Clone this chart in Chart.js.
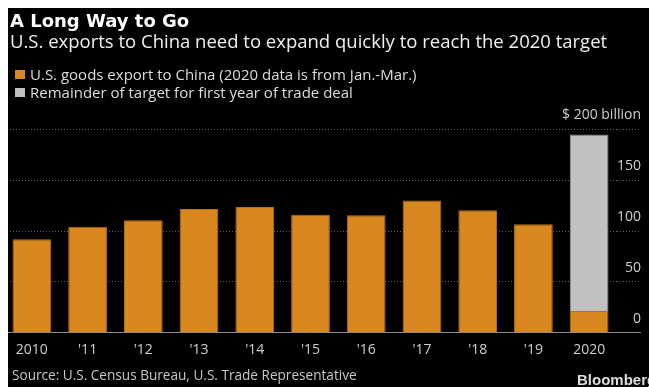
<!DOCTYPE html>
<html>
<head>
<meta charset="utf-8">
<title>A Long Way to Go</title>
<script src="https://cdn.jsdelivr.net/npm/chart.js@4.4.1/dist/chart.umd.min.js"></script>
<style>
  html, body { margin: 0; padding: 0; background: #fff; width: 649px; height: 387px; overflow: hidden; }
  #panel { position: absolute; left: 8px; top: 8px; width: 641px; height: 379px; background: #000; }
  #chart { position: absolute; left: 0; top: 0; clip-path: inset(8px 0 0 8px); }
  .txt { position: absolute; white-space: nowrap; font-family: "Open Sans", sans-serif; }
  #title { left: 10px; top: 12px; font: bold 18px/18px "DejaVu Sans", sans-serif; color: #fff; }
  #subtitle { left: 10px; top: 32px; font-size: 18.5px; line-height: 18px; color: #f0f0f0; }
  .legend { left: 30px; font-size: 15px; line-height: 18px; color: #ddd; }
  .swatch { position: absolute; left: 15px; width: 10px; height: 9px; }
  #source { left: 12px; top: 368px; font-size: 13.6px; line-height: 14px; color: #c8c8c8; }
  #brand { left: 577px; top: 372px; font: bold 15px/15px "Liberation Sans", Arial, sans-serif; color: #ddd; }
</style>
</head>
<body>
<div id="panel"></div>
<canvas id="chart" width="649" height="387"></canvas>

<div class="txt" id="title">A Long Way to Go</div>
<div class="txt" id="subtitle">U.S. exports to China need to expand quickly to reach the 2020 target</div>

<div class="swatch" id="swExports" style="top:70px"></div>
<div class="txt legend" id="lgExports" style="top:65px"></div>
<div class="swatch" id="swRemainder" style="top:88px"></div>
<div class="txt legend" id="lgRemainder" style="top:83px"></div>

<div class="txt" id="source">Source: U.S. Census Bureau, U.S. Trade Representative</div>
<div class="txt" id="brand">Bloomberg</div>

<script>
// years on the x axis
const years = ["2010", "'11", "'12", "'13", "'14", "'15", "'16", "'17", "'18", "'19", "2020"];

// U.S. goods exports to China, $ billion (2020 = Jan.-Mar. only)
const exportsToChina = [91.9, 104.1, 110.5, 121.7, 123.7, 115.9, 115.6, 129.9, 120.3, 106.6, 21.3];

// what is still missing to hit the first-year target (only 2020)
const remainingTarget = [null, null, null, null, null, null, null, null, null, null, 173.5];

// y axis ticks
const yTicks = [0, 50, 100, 150, 200];

const seriesNames = [
  "U.S. goods export to China (2020 data is from Jan.-Mar.)",
  "Remainder of target for first year of trade deal"
];

const ORANGE = "#d9881f";
const GREY = "#c0c0c0";

// html legend
document.getElementById("swExports").style.background = ORANGE;
document.getElementById("swRemainder").style.background = GREY;
document.getElementById("lgExports").textContent = seriesNames[0];
document.getElementById("lgRemainder").textContent = seriesNames[1];

const tickFont = { family: "Open Sans", size: 14 };
const dotted = ctx => (ctx.tick && ctx.tick.value !== 0) ? [1, 2] : [];

new Chart(document.getElementById("chart"), {
  type: "bar",
  data: {
    labels: years,
    datasets: [
      {
        label: seriesNames[0],
        data: exportsToChina,
        backgroundColor: ORANGE,
        borderColor: "#b86f14",
        borderWidth: { top: 1, left: 1, right: 1, bottom: 0 },
        borderSkipped: false
      },
      {
        label: seriesNames[1],
        data: remainingTarget,
        backgroundColor: GREY,
        borderColor: "#9c9c9c",
        borderWidth: { top: 1, left: 1, right: 1, bottom: 0 },
        borderSkipped: false
      }
    ]
  },
  options: {
    responsive: false,
    animation: false,
    devicePixelRatio: 1,
    layout: { padding: { left: 4, right: 8, top: 129.3, bottom: 0 } },
    datasets: {
      bar: { barPercentage: 0.695, categoryPercentage: 1 }
    },
    plugins: {
      legend: { display: false },
      title: { display: false },
      tooltip: { enabled: false }
    },
    scales: {
      x: {
        stacked: true,
        grid: { display: false, drawTicks: false },
        border: { display: false },
        ticks: {
          color: "#cfcfcf",
          font: tickFont,
          padding: 9,
          maxRotation: 0,
          autoSkip: false
        },
        afterFit: s => { s.height = 54.3; }
      },
      y: {
        position: "right",
        stacked: true,
        min: 0,
        max: 200,
        afterBuildTicks: s => { s.ticks = yTicks.map(v => ({ value: v })); },
        afterFit: s => { s.width = 24; },
        ticks: {
          color: "#cfcfcf",
          font: tickFont,
          // mirrored labels are not clipped to the narrow axis box
          mirror: true,
          crossAlign: "near",
          padding: 24,
          labelOffset: -14,
          callback: v => v === 200 ? "$ 200 billion" : v
        },
        grid: {
          color: ctx => (ctx.tick && ctx.tick.value === 0) ? "#8c8c8c" : "#5e5e5e",
          lineWidth: 1,
          drawTicks: true,
          tickLength: 24,
          tickBorderDash: dotted
        },
        border: { display: false, dash: dotted }
      }
    }
  }
});
</script>
</body>
</html>
